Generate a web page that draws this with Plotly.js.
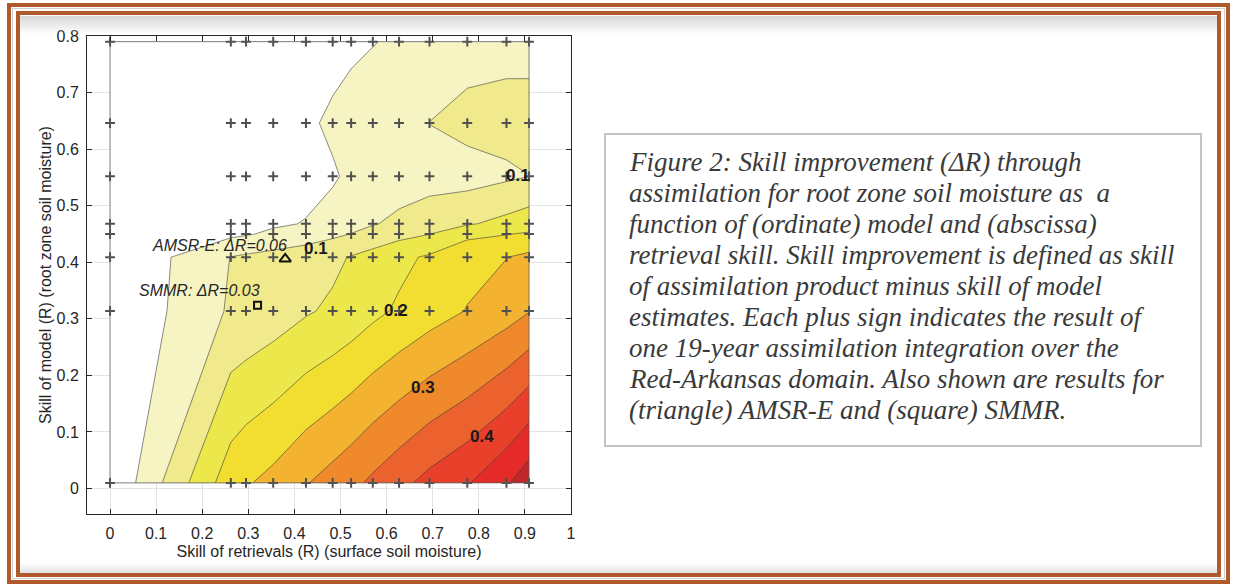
<!DOCTYPE html>
<html>
<head>
<meta charset="utf-8">
<script src="https://cdn.plot.ly/plotly-3.0.1.min.js"></script>
<style>
  html, body { margin: 0; padding: 0; background: #ffffff; }
  #wrap { position: relative; width: 1237px; height: 586px; overflow: hidden; background: #ffffff; }
  #chart { position: absolute; left: 0; top: 0; width: 1237px; height: 586px; }
  .frame { position: absolute; box-sizing: border-box; pointer-events: none; z-index: 10; }
  #shadeTop { position: absolute; left: 20px; right: 20px; top: 16px; height: 18px; z-index: 9;
    background: linear-gradient(#d6d6d6, rgba(255,255,255,0)); pointer-events: none; }
  #shadeBot { position: absolute; left: 20px; right: 20px; bottom: 13px; height: 10px; z-index: 9;
    background: linear-gradient(rgba(255,255,255,0), #e2e2e2); pointer-events: none; }
</style>
</head>
<body>
<div id="wrap">
  <div id="chart"></div>
  <div id="shadeTop"></div>
  <div id="shadeBot"></div>
  <div class="frame" style="left:7px;top:3px;right:7px;bottom:2px;border:4px solid #b05a2b;"></div>
  <div class="frame" style="left:12px;top:8px;right:12px;bottom:7px;border:1px solid #cfcfcf;"></div>
  <div class="frame" style="left:16px;top:11px;right:16px;bottom:9px;border:4px solid #b05a2b;"></div>
</div>
<script>
// ---- data ----
// skill of retrievals (abscissa) at which integrations were run
var skillRetrieval = [0, 0.262, 0.295, 0.354, 0.425, 0.483, 0.523, 0.570, 0.627, 0.693, 0.775, 0.860, 0.909];
// skill of model (ordinate)
var skillModel = [0.010, 0.314, 0.409, 0.450, 0.468, 0.552, 0.646, 0.790];
// skill improvement deltaR, one row per model skill value
var deltaR = [
  [0.002, 0.229, 0.245, 0.265, 0.297, 0.320, 0.337, 0.360, 0.386, 0.416, 0.446, 0.493, 0.532],
  [0.000, 0.106, 0.112, 0.125, 0.145, 0.158, 0.170, 0.188, 0.207, 0.228, 0.252, 0.278, 0.298],
  [-0.002, 0.101, 0.108, 0.118, 0.128, 0.140, 0.153, 0.168, 0.188, 0.207, 0.235, 0.249, 0.262],
  [-0.010, 0.040, 0.046, 0.058, 0.075, 0.090, 0.101, 0.118, 0.135, 0.149, 0.188, 0.198, 0.205],
  [-0.010, 0.030, 0.035, 0.044, 0.052, 0.070, 0.083, 0.097, 0.110, 0.125, 0.145, 0.164, 0.178],
  [-0.010, -0.010, 0.000, 0.015, 0.036, 0.044, 0.060, 0.070, 0.078, 0.082, 0.080, 0.092, 0.0995],
  [-0.010, -0.010, 0.000, 0.020, 0.040, 0.060, 0.070, 0.078, 0.088, 0.1005, 0.115, 0.118, 0.118],
  [-0.010, -0.010, 0.000, 0.010, 0.020, 0.030, 0.040, 0.048, 0.058, 0.070, 0.080, 0.085, 0.085]
];
// satellite results
var amsrX = [0.380], amsrY = [0.406], amsrLabel = "AMSR-E: \u0394R=0.06";
var smmrX = [0.320], smmrY = [0.324], smmrLabel = "SMMR: \u0394R=0.03";
// contour levels and their labels
var levelStart = 0.05, levelEnd = 0.50, levelStep = 0.05;
var labelTexts = ["0.1", "0.1", "0.2", "0.3", "0.4"];
var xTicks = [0, 0.1, 0.2, 0.3, 0.4, 0.5, 0.6, 0.7, 0.8, 0.9, 1];
var yTicks = [0, 0.1, 0.2, 0.3, 0.4, 0.5, 0.6, 0.7, 0.8];
var captionLines = [
  "Figure 2: Skill improvement (\u0394R) through",
  "assimilation for root zone soil moisture as  a",
  "function of (ordinate) model and (abscissa)",
  "retrieval skill. Skill improvement is defined as skill",
  "of assimilation product minus skill of model",
  "estimates. Each plus sign indicates the result of",
  "one 19-year assimilation integration over the",
  "Red-Arkansas domain. Also shown are results for",
  "(triangle) AMSR-E and (square) SMMR."
];

// ---- build plus-sign positions from grid ----
var plusX = [], plusY = [];
skillModel.forEach(function (yv) {
  skillRetrieval.forEach(function (xv) { plusX.push(xv); plusY.push(yv); });
});

var bandColors = ['#ffffff', '#f7f4c3', '#f0ea8d', '#ece84b', '#f2dd31', '#f3b22f',
                  '#f0882c', '#ec622e', '#e8402b', '#e42b29', '#bf272a'];
var cscale = bandColors.map(function (c, i) { return [i / (bandColors.length - 1), c]; });

var traces = [
  {
    type: 'contour', x: skillRetrieval, y: skillModel, z: deltaR,
    autocontour: false,
    contours: { start: levelStart, end: levelEnd, size: levelStep, coloring: 'fill', showlines: true },
    line: { color: '#3a3a3a', width: 0.6, smoothing: 0 },
    colorscale: cscale, showscale: false, hoverinfo: 'skip'
  },
  {
    type: 'scatter', mode: 'markers', x: plusX, y: plusY, hoverinfo: 'skip',
    marker: { symbol: 'cross-thin', size: 7, color: '#505050', line: { color: '#505050', width: 2 } }
  },
  {
    type: 'scatter', mode: 'markers', x: amsrX, y: amsrY, hoverinfo: 'skip',
    marker: { symbol: 'triangle-up-open', size: 10, color: '#111111', line: { color: '#111111', width: 2 } }
  },
  {
    type: 'scatter', mode: 'markers', x: smmrX, y: smmrY, hoverinfo: 'skip',
    marker: { symbol: 'square-open', size: 7, color: '#111111', line: { color: '#111111', width: 2 } }
  }
];

var axisFont = { family: 'Liberation Sans, Arial, sans-serif', size: 16, color: '#262626' };
var labelPos = [[0.447, 0.424], [0.884, 0.554], [0.621, 0.314], [0.679, 0.178], [0.806, 0.092]];

var annotations = [];
labelTexts.forEach(function (t, i) {
  annotations.push({
    x: labelPos[i][0], y: labelPos[i][1], xref: 'x', yref: 'y', text: '<b>' + t + '</b>', showarrow: false,
    font: { family: 'Liberation Sans, Arial, sans-serif', size: 17, color: '#1a1a1a' }
  });
});
annotations.push({
  x: 0.086, y: 0.429, xref: 'x', yref: 'y', xanchor: 'left', text: amsrLabel, showarrow: false,
  font: { family: 'Liberation Sans, Arial, sans-serif', size: 16, color: '#262626', style: 'italic' }
});
annotations.push({
  x: 0.058, y: 0.350, xref: 'x', yref: 'y', xanchor: 'left', text: smmrLabel, showarrow: false,
  font: { family: 'Liberation Sans, Arial, sans-serif', size: 16, color: '#262626', style: 'italic' }
});
// caption box text, one annotation per line
captionLines.forEach(function (t, i) {
  var py = 162 + i * 31.05;
  annotations.push({
    xref: 'paper', yref: 'paper', x: (627 - 87) / 484, y: (514 - py) / 478,
    xanchor: 'left', yanchor: 'middle', align: 'left', showarrow: false,
    text: t,
    font: { family: 'Liberation Serif, serif', size: 27, color: '#3a3a3a', style: 'italic' }
  });
});

var layout = {
  width: 1237, height: 586,
  margin: { l: 87, r: 666, t: 36, b: 72, pad: 0 },
  paper_bgcolor: 'rgba(0,0,0,0)', plot_bgcolor: '#ffffff',
  showlegend: false,
  xaxis: {
    range: [-0.05, 1], tickvals: xTicks, ticktext: xTicks.map(String),
    ticks: 'inside', ticklen: 5, tickcolor: '#262626', tickwidth: 1,
    showline: true, linecolor: '#262626', linewidth: 1, mirror: 'ticks',
    showgrid: true, gridcolor: '#e3e3e3', gridwidth: 1, zeroline: false,
    tickfont: axisFont, ticklabelstandoff: 5,
    title: { text: 'Skill of retrievals (R) (surface soil moisture)', font: axisFont, standoff: 4 }
  },
  yaxis: {
    range: [-0.045, 0.8], tickvals: yTicks, ticktext: yTicks.map(String),
    ticks: 'inside', ticklen: 5, tickcolor: '#262626', tickwidth: 1,
    showline: true, linecolor: '#262626', linewidth: 1, mirror: 'ticks',
    showgrid: true, gridcolor: '#e3e3e3', gridwidth: 1, zeroline: false,
    tickfont: axisFont, ticklabelstandoff: 4,
    title: { text: 'Skill of model (R) (root zone soil moisture)', font: axisFont, standoff: 0 }
  },
  shapes: [
    { type: 'rect', xref: 'x', yref: 'y', layer: 'above',
      x0: skillRetrieval[0], x1: skillRetrieval[skillRetrieval.length - 1],
      y0: skillModel[0], y1: skillModel[skillModel.length - 1],
      line: { color: '#5a5a5a', width: 0.8 } },
    { type: 'rect', xref: 'paper', yref: 'paper',
      x0: (605 - 87) / 484, x1: (1201 - 87) / 484, y0: (514 - 446) / 478, y1: (514 - 134) / 478,
      line: { color: '#c4c4c4', width: 2 }, fillcolor: 'rgba(0,0,0,0)' }
  ],
  annotations: annotations
};

Plotly.newPlot('chart', traces, layout, { staticPlot: true, displayModeBar: false });
</script>
</body>
</html>
